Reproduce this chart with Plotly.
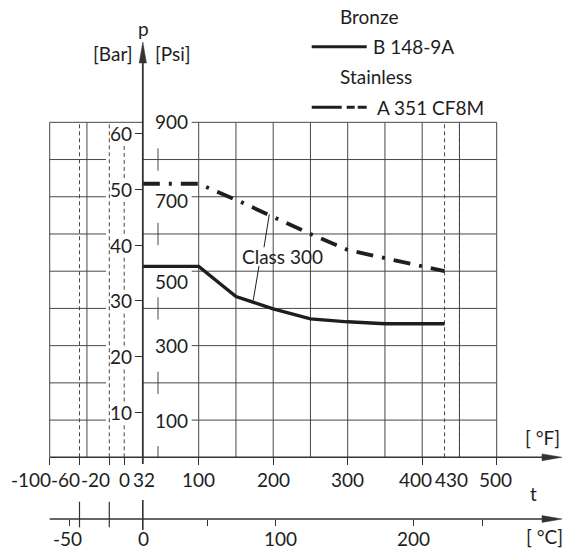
import plotly.graph_objects as go

# ---------------- data ----------------
BRONZE_TEMP_F = [25, 100, 150, 200, 250, 300, 350, 430]
BRONZE_PSI = [513, 513, 432, 399, 372, 364, 359, 359]

STAINLESS_TEMP_F = [25, 100, 150, 200, 250, 300, 350, 400, 430]
STAINLESS_PSI = [735, 735, 692, 646, 600, 557, 535, 511, 500]

F_TICK_VALUES = [-100, -60, -20, 0, 32, 100, 200, 300, 400, 430, 500]
F_TICK_LABELS = ["-100", "-60", "-20", "0", "32", "100", "200", "300", "400", "430", "500"]
C_TICK_VALUES = [-50, 0, 100, 200]
C_TICK_LABELS = ["-50", "0", "100", "200"]
C_MINOR_TICKS = [-50, 50, 100, 200, 250]
PSI_TICK_VALUES = [900, 700, 500, 300, 100]
PSI_GRID_VALUES = [100, 200, 300, 400, 500, 600, 700, 800, 900]
BAR_TICK_VALUES = [60, 50, 40, 30, 20, 10]
GRID_F_SOLID = [-100, -50, 100, 150, 200, 250, 300, 350, 400, 450, 500]
GRID_F_DASHED = [-60, -20, 430, 450]

GROUP_TITLES = ["Bronze", "Stainless"]
SERIES_NAMES = ["B 148-9A", "A 351 CF8M"]
CLASS_LABEL = "Class 300"

# ---------------- layout constants (pixels) ----------------
W, H = 567, 552
X0_PX, X_SCALE = 124.2, 0.745      # px of 0 degF, px per degF
Y0_PX, Y_SCALE = 457.3, 0.3722     # px of 0 psi, px per psi
BAR0_PX, BAR_SCALE = 468.6, 5.59   # bar scale as drawn
C0_PX, C_SCALE = 138.4, 1.3758     # degC scale as drawn
P_AXIS_F = 25                      # where the pressure axis is drawn
C_AXIS_PX = 519
FONT = "Lato"
FS = 19
INK = "#1e1e1e"
GRID = "#474747"
AX = "#333333"


def fx(px):
    return (px - X0_PX) / X_SCALE


def fy(py):
    return (Y0_PX - py) / Y_SCALE


def fb(py):
    return (BAR0_PX - py) / BAR_SCALE


fig = go.Figure()

fig.add_trace(go.Scatter(x=BRONZE_TEMP_F, y=BRONZE_PSI, mode="lines",
                         line=dict(color=INK, width=3.4), showlegend=False,
                         name=SERIES_NAMES[0], hoverinfo="skip"))
fig.add_trace(go.Scatter(x=STAINLESS_TEMP_F, y=STAINLESS_PSI, mode="lines",
                         line=dict(color=INK, width=3.8, dash="17px,9px,3px,9px"),
                         showlegend=False, name=SERIES_NAMES[1], hoverinfo="skip"))

shapes = []


def seg(x0, y0, x1, y1, color=GRID, width=1, dash=None, yref="y", xref="x", layer="below"):
    d = dict(type="line", x0=x0, y0=y0, x1=x1, y1=y1, xref=xref, yref=yref,
             line=dict(color=color, width=width), layer=layer)
    if dash:
        d["line"]["dash"] = dash
    shapes.append(d)


# horizontal grid lines
for v in PSI_GRID_VALUES:
    left_end = P_AXIS_F if v == 900 else fx(106)
    seg(-100, v, left_end, v)
    right_start = fx(191.7) if v in PSI_TICK_VALUES else P_AXIS_F
    seg(right_start, v, 500, v)

# vertical grid lines
for f in GRID_F_SOLID:
    seg(f, 0, f, 900)
for f in GRID_F_DASHED:
    seg(f, 0, f, 900, dash="4px,3px")

# 0 degF dashed line interrupted by bar labels
bar_bottom, bar_top = fb(Y0_PX), fb(122.3)
lo = bar_bottom
for b in sorted(BAR_TICK_VALUES):
    if b - 2 > lo:
        seg(0, lo, 0, b - 2, dash="4px,3px", yref="y2")
    lo = b + 2
if bar_top > lo:
    seg(0, lo, 0, bar_top, dash="4px,3px", yref="y2")

# short vertical pieces between psi labels
f_short = fx(158)
lo = 0
for v in sorted(PSI_TICK_VALUES):
    if v - 70 > lo:
        seg(f_short, lo, f_short, v - 70)
    lo = v + 70

# axes lines
seg(P_AXIS_F, fy(464), P_AXIS_F, fy(58), color=AX, width=1.8, layer="above")
seg(-100, 0, fx(548), 0, color=AX, width=1.6, layer="above")
seg(-100, fy(C_AXIS_PX), fx(548), fy(C_AXIS_PX), color=AX, width=1.6, layer="above")
# crossing marks on the degC axis
for f in [-60, -20]:
    seg(f, fy(501.7), f, fy(527.3), color=AX, width=1.2)
seg(P_AXIS_F, fy(500), P_AXIS_F, fy(530), color=AX, width=1.6)


def tri(points):
    p = "M " + " L ".join(f"{a},{b}" for a, b in points) + " Z"
    shapes.append(dict(type="path", path=p, xref="x", yref="y",
                       fillcolor=AX, line=dict(color=AX, width=0.5), layer="above"))


# arrow heads
tri([(P_AXIS_F, fy(42)), (P_AXIS_F - 3.6 / X_SCALE, fy(63)), (P_AXIS_F + 3.6 / X_SCALE, fy(63))])
for ypx in [Y0_PX, C_AXIS_PX]:
    tri([(fx(562), fy(ypx)), (fx(542), fy(ypx - 3.4)), (fx(542), fy(ypx + 3.4))])

# legend samples
seg(fx(311.7), fy(46.7), fx(366.7), fy(46.7), color=INK, width=3, layer="above")
seg(fx(311.7), fy(107.3), fx(366.7), fy(107.3), color=INK, width=3,
    dash="30px,5px,8px,3px,9px,60px", layer="above")

# leader lines for the class label
seg(fx(269.3), fy(214.3), fx(264), fy(247.3), color=INK, width=1, layer="above")
seg(fx(259), fy(266), fx(253.3), fy(300), color=INK, width=1, layer="above")

ann = []


def text(x, y, s, xanchor="center", xref="x", yref="y", xshift=0, yshift=0, size=FS):
    ann.append(dict(x=x, y=y, text=s, xref=xref, yref=yref, showarrow=False,
                    xanchor=xanchor, yanchor="middle", xshift=xshift, yshift=yshift,
                    font=dict(family=FONT, size=size, color=INK), borderpad=0))


F_LABEL_SHIFT = [-18.5, -14.5, -14, 0, -4, 0, 0, 0, -6.5, 6.5, -1]
for v, s, sh in zip(F_TICK_VALUES, F_TICK_LABELS, F_LABEL_SHIFT):
    text(v, fy(479.3), s, xshift=sh)

C_LABEL_SHIFT = [-2, 5.5, 5, 0]
for v, s, sh in zip(C_TICK_VALUES, C_TICK_LABELS, C_LABEL_SHIFT):
    text(v, fy(538), s, xref="x2", xshift=sh)

PSI_LABEL_SHIFT = [1, -4, -10, 0, 0]
for v, sh in zip(PSI_TICK_VALUES, PSI_LABEL_SHIFT):
    text(fx(154), v, str(v), xanchor="left", yshift=sh)

for v in BAR_TICK_VALUES:
    text(fx(132.5), v, str(v), xanchor="right", yref="y2")

text(fx(143.5), fy(28), "p")
text(fx(134), fy(53), "[Bar]", xanchor="right")
text(fx(154), fy(53), "[Psi]", xanchor="left")
text(fx(339), fy(16), GROUP_TITLES[0], xanchor="left")
text(fx(372), fy(46.7), SERIES_NAMES[0], xanchor="left")
text(fx(339), fy(76), GROUP_TITLES[1], xanchor="left")
text(fx(376), fy(107.3), SERIES_NAMES[1], xanchor="left")
text(fx(282), fy(256), CLASS_LABEL)
text(fx(542), fy(437), "[ °F]")
text(fx(533), fy(493), "t")
text(fx(544), fy(536.7), "[ °C]")

fig.update_layout(
    width=W, height=H,
    margin=dict(l=0, r=0, t=0, b=0),
    paper_bgcolor="white", plot_bgcolor="white",
    shapes=shapes, annotations=ann, showlegend=False,
    xaxis=dict(range=[fx(0), fx(W)], domain=[0, 1], anchor="free", position=1 - Y0_PX / H,
               showgrid=False, zeroline=False, showline=False, showticklabels=False,
               ticks="outside", ticklen=7, tickwidth=1.2, tickcolor=AX,
               tickvals=[v for v in F_TICK_VALUES if v not in (32, 430)]),
    xaxis2=dict(range=[(0 - C0_PX) / C_SCALE, (W - C0_PX) / C_SCALE], overlaying="x",
                anchor="free", position=1 - C_AXIS_PX / H, side="bottom",
                showgrid=False, zeroline=False, showline=False, showticklabels=False,
                ticks="outside", ticklen=6, tickwidth=1.2, tickcolor=AX,
                tickvals=C_MINOR_TICKS),
    yaxis=dict(range=[fy(H), fy(0)], domain=[0, 1], showgrid=False, zeroline=False,
               showline=False, showticklabels=False, ticks=""),
    yaxis2=dict(range=[fb(H), fb(0)], overlaying="y", anchor="free", position=143 / W,
                side="left", showgrid=False, zeroline=False, showline=False,
                showticklabels=False, ticks="outside", ticklen=8, tickwidth=1.2,
                tickcolor=AX, tickvals=BAR_TICK_VALUES),
)

fig.write_html("out.html", config={"displayModeBar": False},
               post_script="document.body.style.margin='0';")
